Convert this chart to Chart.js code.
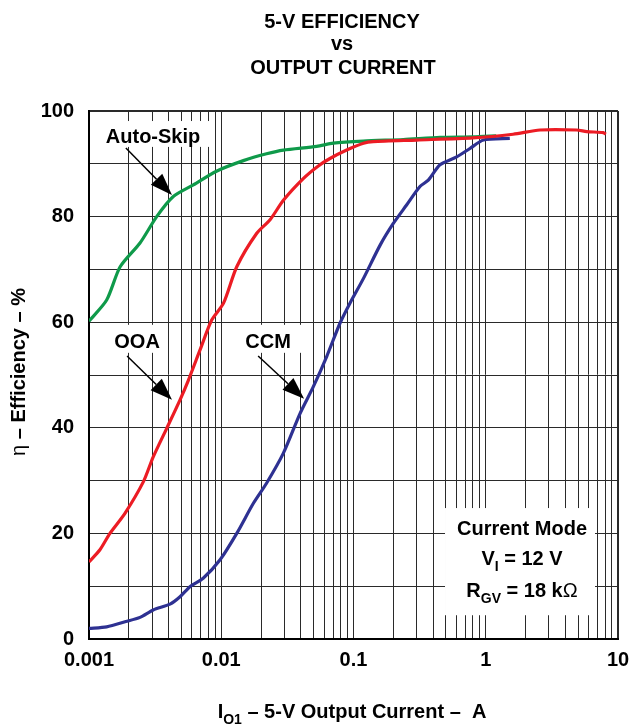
<!DOCTYPE html>
<html>
<head>
<meta charset="utf-8">
<script src="https://cdn.jsdelivr.net/npm/chart.js@4.4.0/dist/chart.umd.min.js"></script>
<style>
  html, body { margin: 0; padding: 0; background: #fff; }
  #wrap { width: 630px; height: 725px; position: relative; }
</style>
</head>
<body>
<div id="wrap"><canvas id="eff"></canvas></div>
<script>
// output current (A) / efficiency (%)
var autoSkipCurrent = [0.001, 0.00136, 0.00172, 0.00243, 0.00325, 0.00434, 0.00615, 0.0092, 0.0147, 0.022, 0.0295, 0.0527, 0.0703, 0.1186, 0.238, 0.451, 0.8, 1.2];
var autoSkipEff     = [60.2, 64.2, 70.5, 75.0, 80.0, 83.8, 86.0, 88.6, 90.6, 91.9, 92.6, 93.3, 93.9, 94.3, 94.6, 95.0, 95.1, 95.3];

var ooaCurrent = [0.001, 0.00121, 0.00144, 0.00187, 0.00258, 0.00306, 0.00387, 0.00488, 0.00564, 0.0069, 0.00847, 0.0104, 0.0131, 0.0185, 0.0234, 0.0295, 0.0417, 0.0542, 0.0664, 0.0888, 0.119, 0.141, 0.3, 0.8, 1.61, 2.57, 4.87, 5.8, 7.74, 8.1];
var ooaEff     = [14.6, 16.9, 20.0, 23.8, 29.8, 34.5, 39.9, 45.3, 49.0, 54.7, 60.4, 63.6, 70.5, 76.8, 79.4, 83.1, 87.2, 89.6, 91.0, 92.6, 93.9, 94.2, 94.5, 94.9, 95.6, 96.4, 96.4, 96.1, 95.9, 95.6];

var ccmCurrent = [0.001, 0.00136, 0.0019, 0.00243, 0.00306, 0.0041, 0.00488, 0.0058, 0.0073, 0.0098, 0.0131, 0.0175, 0.022, 0.0295, 0.0394, 0.0497, 0.0627, 0.079, 0.094, 0.119, 0.159, 0.2, 0.252, 0.318, 0.368, 0.451, 0.603, 0.76, 0.96, 1.52];
var ccmEff     = [2.0, 2.3, 3.3, 4.1, 5.5, 6.6, 8.0, 9.9, 11.5, 15.0, 20.0, 25.7, 29.5, 35.2, 42.7, 47.8, 53.5, 59.8, 63.6, 68.3, 74.6, 78.7, 82.2, 85.7, 86.9, 89.8, 91.3, 92.9, 94.5, 94.8];

var xDecades = [0.001, 0.01, 0.1, 1, 10];
var xTickLabels = ['0.001', '0.01', '0.1', '1', '10'];
var yTickLabels = ['0', '20', '40', '60', '80', '100'];

var FONT = "'Liberation Sans', Arial, sans-serif";

function toPoints(xs, ys) {
  var pts = [];
  for (var i = 0; i < xs.length; i++) pts.push({x: xs[i], y: ys[i]});
  return pts;
}

// every grid line: 1..9 per decade, plus the last decade
var xGrid = [];
for (var d = 0; d < xDecades.length - 1; d++) {
  for (var m = 1; m <= 9; m++) xGrid.push(+(xDecades[d] * m).toPrecision(3));
}
xGrid.push(xDecades[xDecades.length - 1]);

function drawRuns(ctx, runs, cx, baseY) {
  // runs: [text, size, dy, weight]
  var total = 0;
  runs.forEach(function (r) {
    ctx.font = (r[3] || 'bold') + ' ' + r[1] + 'px ' + FONT;
    r.w = ctx.measureText(r[0]).width;
    total += r.w;
  });
  var x = cx - total / 2;
  ctx.textAlign = 'left';
  ctx.textBaseline = 'alphabetic';
  runs.forEach(function (r) {
    ctx.font = (r[3] || 'bold') + ' ' + r[1] + 'px ' + FONT;
    ctx.fillText(r[0], x, baseY + r[2]);
    x += r.w;
  });
}

function arrow(ctx, x0, y0, x1, y1) {
  var a = Math.atan2(y1 - y0, x1 - x0), len = 22, hw = 8;
  var bx = x1 - len * Math.cos(a), by = y1 - len * Math.sin(a);
  ctx.strokeStyle = '#000';
  ctx.fillStyle = '#000';
  ctx.lineWidth = 1.5;
  ctx.beginPath(); ctx.moveTo(x0, y0); ctx.lineTo(bx, by); ctx.stroke();
  ctx.beginPath();
  ctx.moveTo(x1, y1);
  ctx.lineTo(bx + hw * Math.sin(a), by - hw * Math.cos(a));
  ctx.lineTo(bx - hw * Math.sin(a), by + hw * Math.cos(a));
  ctx.closePath();
  ctx.fill();
}

// white patches behind the labels (data coords: x0, x1, yTop, yBottom)
var patches = [
  [0.00121, 0.0087, 98.1, 93.2],
  [0.00134, 0.00382, 59.5, 54.2],
  [0.0139, 0.0415, 59.5, 54.2],
  [0.492, 6.7, 24.8, 4.5]
];

var decor = {
  id: 'decor',
  beforeDatasetsDraw: function (chart) {
    var ctx = chart.ctx, sx = chart.scales.x, sy = chart.scales.y;
    ctx.save();
    ctx.fillStyle = '#fff';
    patches.forEach(function (p) {
      var x0 = sx.getPixelForValue(p[0]), x1 = sx.getPixelForValue(p[1]);
      var y0 = sy.getPixelForValue(p[2]), y1 = sy.getPixelForValue(p[3]);
      ctx.fillRect(x0, y0, x1 - x0, y1 - y0);
    });
    ctx.restore();
  },
  afterDatasetsDraw: function (chart) {
    var ctx = chart.ctx, sx = chart.scales.x, sy = chart.scales.y;
    function P(x, y) { return [sx.getPixelForValue(x), sy.getPixelForValue(y)]; }
    ctx.save();
    ctx.fillStyle = '#000';

    // curve labels + arrows
    var t = P(0.00305, 95.3);
    drawRuns(ctx, [['Auto-Skip', 20, 0]], t[0], t[1] + 7);
    var a0 = P(0.0019, 93.0), a1 = P(0.00424, 84.1);
    arrow(ctx, a0[0], a0[1], a1[0], a1[1]);

    t = P(0.00231, 56.4);
    ctx.fillStyle = '#000';
    drawRuns(ctx, [['OOA', 20, 0]], t[0], t[1] + 7);
    a0 = P(0.00194, 53.6); a1 = P(0.00424, 45.3);
    arrow(ctx, a0[0], a0[1], a1[0], a1[1]);

    t = P(0.0226, 56.4);
    drawRuns(ctx, [['CCM', 20, 0]], t[0], t[1] + 7);
    a0 = P(0.019, 53.6); a1 = P(0.0423, 45.5);
    arrow(ctx, a0[0], a0[1], a1[0], a1[1]);

    // conditions box
    var cx = sx.getPixelForValue(1.88);
    drawRuns(ctx, [['Current Mode', 20, 0]], cx, sy.getPixelForValue(19.7));
    drawRuns(ctx, [['V', 20, 0], ['I', 14, 6], [' = 12 V', 20, 0]], cx, sy.getPixelForValue(14.0));
    drawRuns(ctx, [['R', 20, 0], ['GV', 14, 6], [' = 18 k', 20, 0], ['\u03A9', 20, 0, 'normal']], cx, sy.getPixelForValue(8.0));

    // chart title
    drawRuns(ctx, [['5-V EFFICIENCY', 20, 0]], 342, 28);
    drawRuns(ctx, [['vs', 20, 0]], 342, 50);
    drawRuns(ctx, [['OUTPUT CURRENT', 20, 0]], 343, 74);

    // x axis title
    drawRuns(ctx, [['I', 20, 0], ['O1', 14, 6], [' \u2013 5-V Output Current \u2013  A', 20, 0]], 352, 718);

    // y axis title
    ctx.translate(25, (chart.chartArea.top + chart.chartArea.bottom) / 2 - 3);
    ctx.rotate(-Math.PI / 2);
    drawRuns(ctx, [['\u03B7', 20, 0, 'normal'], [' \u2013 Efficiency \u2013 %', 20, 0]], 0, 0);
    ctx.restore();
  }
};

var ctx = document.getElementById('eff').getContext('2d');
var chart = new Chart(ctx, {
  type: 'line',
  data: {
    datasets: [
      { label: 'OOA', data: toPoints(ooaCurrent, ooaEff), borderColor: '#ec1c24' },
      { label: 'CCM', data: toPoints(ccmCurrent, ccmEff), borderColor: '#2e3192' },
      { label: 'Auto-Skip', data: toPoints(autoSkipCurrent, autoSkipEff), borderColor: '#0f9a4a' }
    ]
  },
  options: {
    responsive: true,
    maintainAspectRatio: false,
    animation: false,
    layout: { padding: { top: 111, right: 12, bottom: 0, left: 0 } },
    elements: {
      point: { radius: 0 },
      line: { borderWidth: 3.2, tension: 0.25, fill: false }
    },
    plugins: {
      legend: { display: false },
      title: { display: false },
      tooltip: { enabled: false }
    },
    scales: {
      x: {
        type: 'logarithmic',
        min: 0.001,
        max: 10,
        afterBuildTicks: function (s) {
          s.ticks = xGrid.map(function (v) { return {value: v}; });
        },
        afterFit: function (s) {
          s.height = 86;
          s.paddingLeft = 0;
          s.paddingRight = 0;
        },
        ticks: {
          autoSkip: false,
          maxRotation: 0,
          padding: 9,
          color: '#000',
          font: { family: FONT, size: 20, weight: 'bold' },
          callback: function (v) {
            for (var i = 0; i < xDecades.length; i++) {
              if (Math.abs(Math.log10(v) - Math.log10(xDecades[i])) < 1e-6) return xTickLabels[i];
            }
            return '';
          }
        },
        grid: {
          drawTicks: false,
          color: '#2a2a2a',
          lineWidth: function (c) { return c.tick && c.tick.value === 10 ? 2 : 1; }
        },
        border: { color: '#000', width: 2 }
      },
      y: {
        min: 0,
        max: 100,
        afterFit: function (s) { s.width = 89; },
        ticks: {
          stepSize: 10,
          padding: 15,
          color: '#000',
          font: { family: FONT, size: 20, weight: 'bold' },
          callback: function (v) { return v % 20 === 0 ? yTickLabels[v / 20] : ''; }
        },
        grid: {
          drawTicks: false,
          color: '#2a2a2a',
          lineWidth: function (c) { return c.tick && c.tick.value === 100 ? 2 : 1; }
        },
        border: { color: '#000', width: 2 }
      }
    }
  },
  plugins: [decor]
});
</script>
</body>
</html>
